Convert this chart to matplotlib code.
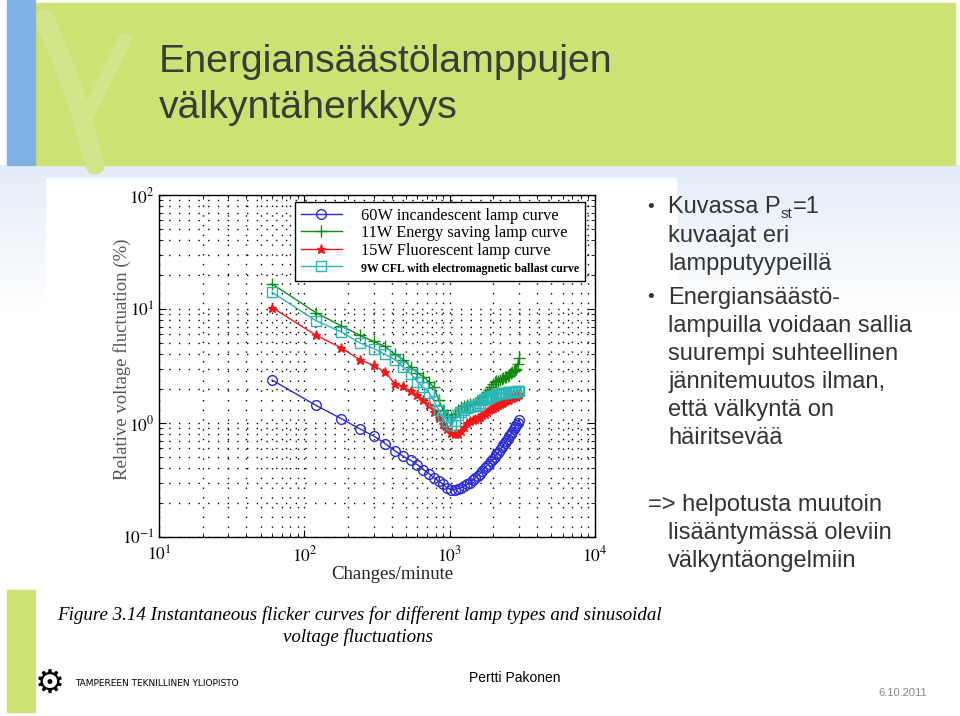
import matplotlib
matplotlib.use("Agg")
import matplotlib.pyplot as plt
from matplotlib.patches import Rectangle
from matplotlib.ticker import LogLocator, NullFormatter, FuncFormatter
import numpy as np

plt.rcParams['mathtext.fontset'] = 'stix'

W, H = 960, 716

# changes per minute (60 ... 3000)
changes = [60, 120, 180, 240, 300, 360, 420, 480, 540, 600,
           660, 720, 780, 840, 900, 960, 1020, 1080, 1140, 1200,
           1260, 1320, 1380, 1440, 1500, 1560, 1620, 1680, 1740, 1800,
           1860, 1920, 1980, 2040, 2100, 2160, 2220, 2280, 2340, 2400,
           2460, 2520, 2580, 2640, 2700, 2760, 2820, 2880, 2940, 3000]

incandescent_60w = [2.38, 1.43, 1.09, 0.89, 0.77, 0.66, 0.57, 0.51, 0.47, 0.43,
                    0.39, 0.36, 0.33, 0.31, 0.29, 0.27, 0.26, 0.26, 0.265, 0.27,
                    0.28, 0.29, 0.30, 0.315, 0.33, 0.345, 0.36, 0.38, 0.40, 0.42,
                    0.44, 0.46, 0.48, 0.50, 0.53, 0.55, 0.58, 0.61, 0.64, 0.67,
                    0.70, 0.73, 0.77, 0.80, 0.84, 0.88, 0.92, 0.96, 1.01, 1.07]

energy_saving_11w = [16.6, 9.3, 7.1, 5.9, 5.2, 4.7, 4.0, 3.6, 3.1, 2.75,
                     2.55, 2.3, 2.05, 1.6, 1.3, 1.18, 1.13, 1.2, 1.3, 1.38,
                     1.42, 1.45, 1.47, 1.48, 1.5, 1.52, 1.58, 1.7, 1.8, 1.88,
                     1.95, 2.05, 2.2, 2.28, 2.32, 2.35, 2.4, 2.45, 2.5, 2.52,
                     2.55, 2.6, 2.65, 2.72, 2.8, 2.85, 2.9, 3.0, 3.3, 3.7]

fluorescent_15w = [10.3, 5.9, 4.55, 3.6, 3.2, 2.8, 2.2, 2.1, 1.9, 1.75,
                   1.6, 1.45, 1.25, 1.1, 0.98, 0.88, 0.82, 0.8, 0.8, 0.85,
                   0.92, 1.0, 1.04, 1.06, 1.08, 1.11, 1.14, 1.17, 1.2, 1.25,
                   1.3, 1.33, 1.36, 1.39, 1.42, 1.45, 1.48, 1.5, 1.52, 1.55,
                   1.58, 1.6, 1.62, 1.65, 1.67, 1.7, 1.72, 1.74, 1.76, 1.78]

cfl_9w = [14.0, 7.9, 6.3, 5.05, 4.5, 4.0, 3.6, 3.1, 2.7, 2.3,
          2.05, 1.85, 1.55, 1.3, 1.15, 1.05, 0.96, 1.05, 1.17, 1.25,
          1.3, 1.35, 1.37, 1.4, 1.42, 1.44, 1.5, 1.58, 1.63, 1.67,
          1.7, 1.72, 1.74, 1.76, 1.78, 1.8, 1.81, 1.82, 1.83, 1.84,
          1.85, 1.86, 1.86, 1.87, 1.87, 1.88, 1.88, 1.89, 1.9, 1.9]

labels = ['60W incandescent lamp curve', '11W Energy saving lamp curve',
          '15W Fluorescent lamp curve', '9W CFL with electromagnetic ballast curve']

bullet1 = ['kuvaajat eri', 'lampputyypeillä']
bullet2 = ['Energiansäästö-', 'lampuilla voidaan sallia', 'suurempi suhteellinen',
           'jännitemuutos ilman,', 'että välkyntä on', 'häiritsevää']
bullet3 = ['=> helpotusta muutoin', 'lisääntymässä oleviin', 'välkyntäongelmiin']


def fx(x):
    return x / W


def fy(y):
    return 1 - y / H


def pow10(v, pos):
    return r'$10^{%d}$' % int(round(np.log10(v)))


fig = plt.figure(figsize=(9.6, 7.16), dpi=100)
fig.patch.set_facecolor('white')

# slide background
bg = fig.add_axes([0, 0, 1, 1], zorder=-5)
bg.set_xlim(0, W)
bg.set_ylim(H, 0)
bg.axis('off')
grad = np.linspace(1, 0, 100).reshape(-1, 1)
bg.imshow(grad, extent=(0, W, 310, 165), cmap=matplotlib.colors.LinearSegmentedColormap.from_list(
    'bgblue', ['#ffffff', '#e3ecf8']), aspect='auto', zorder=0)
bg.add_patch(Rectangle((0, 165), W, 15, color='#e3ecf8', zorder=1))
bg.add_patch(Rectangle((35, 3), 920, 162, color='#cde274', zorder=2))
# faint tree shape in header
bg.plot([95, 80, 62, 45], [165, 110, 60, 20], color='#d2e58a', linewidth=14,
        solid_capstyle='round', zorder=2.5)
bg.plot([85, 105, 125], [120, 80, 40], color='#d2e58a', linewidth=10,
        solid_capstyle='round', zorder=2.5)
bg.add_patch(Rectangle((7, 0), 28, 165, color='#7fb3e3', zorder=3))
bg.add_patch(Rectangle((7, 590), 28, 122, color='#cde274', zorder=2))
bg.add_patch(Rectangle((46, 178), 630, 482, color='white', zorder=3))

# title
fig.text(fx(159), fy(62), 'Energiansäästölamppujen', family='Liberation Sans',
         fontsize=28.3, color='#3a3d35', va='center', ha='left')
fig.text(fx(159), fy(108), 'välkyntäherkkyys', family='Liberation Sans',
         fontsize=28.3, color='#3a3d35', va='center', ha='left')

# chart
ax = fig.add_axes([fx(159), fy(537), 436 / W, 342 / H])
ax.plot(changes, incandescent_60w, color='#2b2bd6', marker='o', markersize=7,
        markerfacecolor='none', linewidth=1, label=labels[0])
ax.plot(changes, energy_saving_11w, color='#138a13', marker='+', markersize=8.5,
        linewidth=1, label=labels[1])
ax.plot(changes, fluorescent_15w, color='#f01818', marker='*', markersize=6.5,
        linewidth=1, label=labels[2])
ax.plot(changes, cfl_9w, color='#2bb5b5', marker='s', markersize=7,
        markerfacecolor='none', linewidth=1, label=labels[3])
ax.set_xscale('log')
ax.set_yscale('log')
ax.set_xlim(10, 10000)
ax.set_ylim(0.1, 100)
ax.xaxis.set_major_locator(LogLocator(base=10, numticks=10))
ax.yaxis.set_major_locator(LogLocator(base=10, numticks=10))
ax.xaxis.set_minor_locator(LogLocator(base=10, subs=np.arange(2, 10), numticks=20))
ax.yaxis.set_minor_locator(LogLocator(base=10, subs=np.arange(2, 10), numticks=20))
ax.xaxis.set_major_formatter(FuncFormatter(pow10))
ax.yaxis.set_major_formatter(FuncFormatter(pow10))
ax.xaxis.set_minor_formatter(NullFormatter())
ax.yaxis.set_minor_formatter(NullFormatter())
ax.tick_params(which='both', direction='in', top=True, right=True, labelsize=12.5,
               colors='black')
ax.tick_params(which='major', length=5)
ax.tick_params(which='minor', length=3)
ax.tick_params(axis='x', pad=6)
ax.tick_params(axis='y', pad=3)
ax.grid(True, which='both', color='black', linestyle=(0, (1, 6)), linewidth=1.0)
for s in ax.spines.values():
    s.set_linewidth(1)
ax.set_xlabel('Changes/minute', family='Liberation Serif', fontsize=13.5, color='#222222')
ax.xaxis.set_label_coords(0.534, -0.085)
ax.set_ylabel('Relative voltage fluctuation (%)', family='Liberation Serif', fontsize=13.5,
              color='#555555')
ax.yaxis.set_label_coords(-0.064, 0.52)
leg = ax.legend(loc='upper right', bbox_to_anchor=(0.977, 0.98), borderaxespad=0,
                fancybox=False, edgecolor='black', framealpha=1, handlelength=2.5,
                handletextpad=1.2, labelspacing=0.1, borderpad=0.35,
                prop={'family': 'Liberation Serif', 'size': 11.8})
leg.get_frame().set_linewidth(1)
leg.get_texts()[3].set_fontsize(8.5)
leg.get_texts()[3].set_fontweight('bold')

# figure caption
fig.text(fx(57), fy(615), 'Figure 3.14 Instantaneous flicker curves for different lamp types and sinusoidal',
         family='Liberation Serif', style='italic', fontsize=13.7, va='center', ha='left')
fig.text(fx(358), fy(637), 'voltage fluctuations', family='Liberation Serif', style='italic',
         fontsize=13.7, va='center', ha='center')

# bullet text
tc = '#333333'
fs = 17
fig.text(fx(647), fy(207), '•', family='Liberation Sans', fontsize=14, color=tc, va='center')
t = fig.text(fx(668), fy(207), 'Kuvassa P', family='Liberation Sans', fontsize=fs, color=tc,
             va='center')
fig.canvas.draw()
r = fig.canvas.get_renderer()
bb = t.get_window_extent(r)
t2 = fig.text(bb.x1 / W, fy(214), 'st', family='Liberation Sans', fontsize=11, color=tc,
              va='center')
bb2 = t2.get_window_extent(r)
fig.text(bb2.x1 / W, fy(207), '=1', family='Liberation Sans', fontsize=fs, color=tc,
         va='center')
for i, line in enumerate(bullet1):
    fig.text(fx(668), fy(236 + 28.5 * i), line, family='Liberation Sans', fontsize=fs,
             color=tc, va='center')
fig.text(fx(647), fy(298), '•', family='Liberation Sans', fontsize=14, color=tc, va='center')
for i, line in enumerate(bullet2):
    fig.text(fx(668), fy(298 + 28 * i), line, family='Liberation Sans', fontsize=fs,
             color=tc, va='center')
for i, line in enumerate(bullet3):
    fig.text(fx(648 if i == 0 else 668), fy(505 + 28 * i), line, family='Liberation Sans',
             fontsize=fs, color=tc, va='center')

# footer
fig.text(fx(50), fy(683), '⚙', family='DejaVu Sans', fontsize=24, color='black',
         ha='center', va='center')
fig.text(fx(75), fy(683), 'TAMPEREEN TEKNILLINEN YLIOPISTO', family='DejaVu Sans',
         fontsize=6.5, color='black', va='center')
fig.text(fx(469), fy(678), 'Pertti Pakonen', family='Liberation Sans', fontsize=10,
         color='black', va='center')
fig.text(fx(878), fy(693), '6.10.2011', family='Liberation Sans', fontsize=8,
         color='#888888', va='center')

fig.savefig('out.png', dpi=100)
